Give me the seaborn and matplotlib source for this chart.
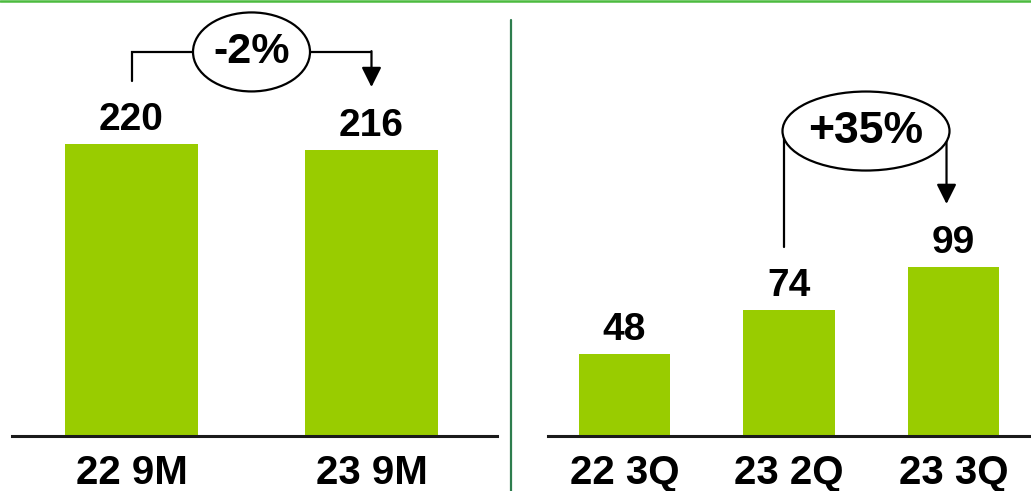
import matplotlib
matplotlib.use("Agg")
import matplotlib.pyplot as plt
import seaborn as sns
import pandas as pd
from matplotlib.patches import Ellipse
from matplotlib.lines import Line2D

# ---- data ----
left_categories = ["22 9M", "23 9M"]
left_values = [220, 216]
left_change = "-2%"

right_categories = ["22 3Q", "23 2Q", "23 3Q"]
right_values = [48, 74, 99]
right_change = "+35%"

sns.set_theme(style="white")
plt.rcParams["font.family"] = ["Liberation Sans", "DejaVu Sans"]
plt.rcParams["text.color"] = "black"

BAR = "#99CC00"
W, H = 1031, 491
fig = plt.figure(figsize=(W / 100, H / 100), dpi=100)

base_y = 435.5  # baseline, pixels from top


def make_ax(x0, x1):
    return fig.add_axes([x0 / W, (H - base_y) / H, (x1 - x0) / W, base_y / H])


axL = make_ax(12, 497)
axR = make_ax(548, 1031)

dfL = pd.DataFrame({"cat": left_categories, "val": left_values})
dfR = pd.DataFrame({"cat": right_categories, "val": right_values})

sns.barplot(data=dfL, x="cat", y="val", color=BAR, width=0.555, ax=axL,
            saturation=1, edgecolor="none")
sns.barplot(data=dfR, x="cat", y="val", color=BAR, width=0.555, ax=axR,
            saturation=1, edgecolor="none")

axL.set_xlim(-0.498, 1.523)
axL.set_ylim(0, base_y / 1.324)
axR.set_xlim(-0.465, 2.471)
axR.set_ylim(0, base_y / 1.70)

for ax, vals in ((axL, left_values), (axR, right_values)):
    ax.set_xlabel("")
    ax.set_ylabel("")
    ax.set_yticks([])
    for s in ("left", "right", "top"):
        ax.spines[s].set_visible(False)
    ax.spines["bottom"].set_linewidth(2.2)
    ax.spines["bottom"].set_color("#1a1a1a")
    ax.tick_params(axis="x", length=0, pad=13, labelsize=29, labelcolor="black")
    for lab in ax.get_xticklabels():
        lab.set_fontweight("bold")
    for i, v in enumerate(vals):
        ax.annotate(str(v), xy=(i, v), xytext=(0, 10), textcoords="offset points",
                    ha="center", va="baseline", fontsize=28, fontweight="bold",
                    color="black", annotation_clip=False)
    ax.patch.set_alpha(0)

LW = 1.6
arrow_kw = dict(arrowstyle="-|>", mutation_scale=30, lw=LW, color="black",
                shrinkA=0, shrinkB=0)

# ---- left change marker ----
sx, sy = 1 / 240, 1 / 1.324  # data units per pixel
ecx, ecy = 0.5, left_values[0] + 69.7
ew, eh = 117 * sx, 79 * sy
axL.plot([0, 0, ecx - ew / 2], [left_values[0] + 47.7, ecy, ecy],
         color="black", lw=LW, clip_on=False, solid_joinstyle="miter")
axL.plot([ecx + ew / 2, 1], [ecy, ecy], color="black", lw=LW, clip_on=False)
axL.annotate("", xy=(1, left_values[1] + 47.2), xytext=(1, ecy + 0.6),
             arrowprops=arrow_kw, annotation_clip=False)
axL.add_patch(Ellipse((ecx, ecy), ew, eh, facecolor="white", edgecolor="black",
                      lw=LW, zorder=5, clip_on=False))
axL.text(ecx, ecy, left_change, ha="center", va="center", fontsize=31,
         fontweight="bold", color="black", zorder=6)

# ---- right change marker ----
sx, sy = 1 / 164.5, 1 / 1.70
ecx, ecy = 1.468, right_values[2] + 80.1
ew, eh = 167 * sx, 79 * sy
lx, rx = 1 - 5 * sx, 2 - 7 * sx
axR.plot([lx, lx], [right_values[1] + 36.9, ecy], color="black", lw=LW,
         clip_on=False)
axR.annotate("", xy=(rx, right_values[2] + 37.2), xytext=(rx, ecy),
             arrowprops=arrow_kw, annotation_clip=False)
axR.add_patch(Ellipse((ecx, ecy), ew, eh, facecolor="white", edgecolor="black",
                      lw=LW, zorder=5, clip_on=False))
axR.text(ecx, ecy, right_change, ha="center", va="center", fontsize=32,
         fontweight="bold", color="black", zorder=6)

# ---- decorative lines ----
fig.add_artist(Line2D([0, 1], [1 - 1.2 / H, 1 - 1.2 / H], color="#4cbb3f",
                      lw=1.8, transform=fig.transFigure))
fig.add_artist(Line2D([511 / W, 511 / W], [0, 1 - 20 / H], color="#2e7d4e",
                      lw=1.6, transform=fig.transFigure))

fig.savefig("out.png", dpi=100, facecolor="white")
